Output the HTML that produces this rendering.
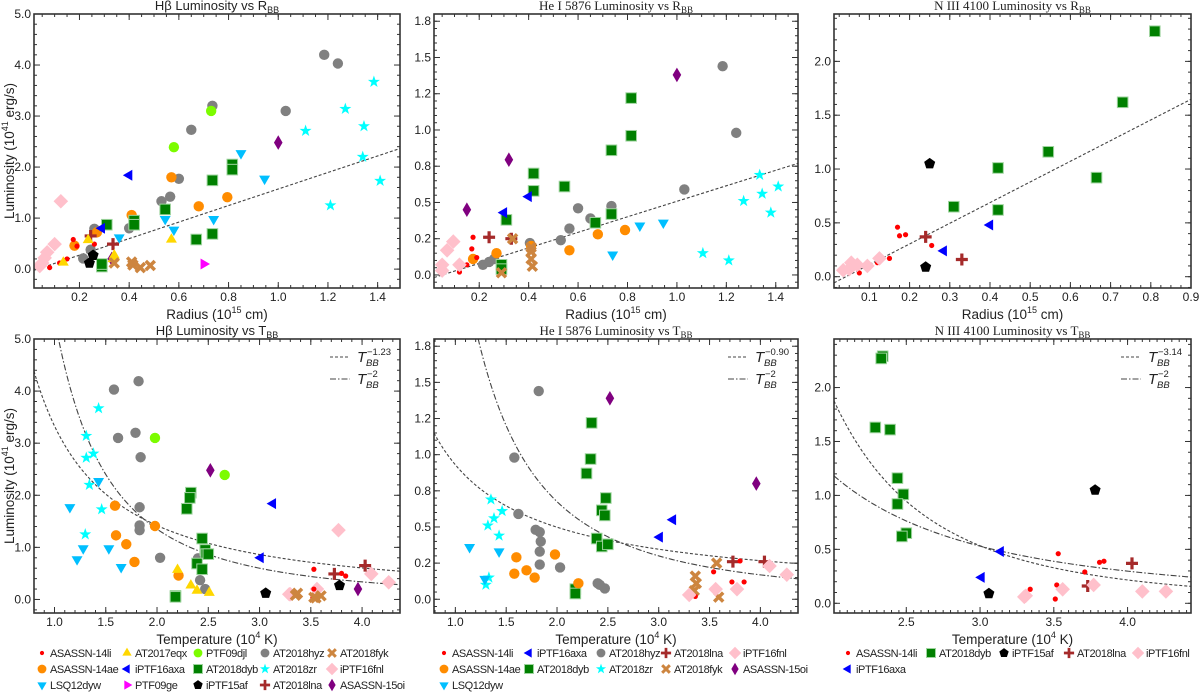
<!DOCTYPE html>
<html><head><meta charset="utf-8"><style>
html,body{margin:0;padding:0;background:#fff;}
svg{display:block;font-family:"Liberation Sans",sans-serif;}
</style></head><body>
<svg id="fig" width="1200" height="695" viewBox="0 0 1200 695" xmlns="http://www.w3.org/2000/svg"></svg>
<script>
// ---------- DATA ----------
const seriesNames = ["ASASSN-14li","AT2017eqx","PTF09djl","AT2018hyz","AT2018fyk","ASASSN-14ae","iPTF16axa","AT2018dyb","AT2018zr","iPTF16fnl","LSQ12dyw","PTF09ge","iPTF15af","AT2018lna","ASASSN-15oi"];

const hbR = {
 "AT2018hyz":[[1.185,4.2],[1.24,4.03],[0.735,3.2],[0.65,2.73],[1.03,3.1],[0.6,1.77],[0.565,1.42],[0.53,1.33],[0.4,0.8],[0.26,0.79],[0.245,0.38],[0.215,0.21]],
 "PTF09djl":[[0.73,3.1],[0.58,2.39]],
 "ASASSN-14ae":[[0.57,1.8],[0.795,1.41],[0.68,1.23],[0.41,1.06],[0.27,0.72],[0.18,0.46]],
 "AT2018dyb":[[0.815,2.05],[0.815,1.95],[0.735,1.74],[0.545,1.17],[0.42,0.95],[0.42,0.87],[0.31,0.87],[0.67,0.58],[0.735,0.69],[0.29,0.05],[0.29,0.1]],
 "AT2018zr":[[1.385,3.67],[1.27,3.14],[1.11,2.71],[1.345,2.8],[1.34,2.2],[1.41,1.73],[1.21,1.25]],
 "LSQ12dyw":[[0.85,2.27],[0.945,1.77],[0.74,0.98],[0.545,0.98],[0.58,0.77],[0.36,0.62]],
 "ASASSN-15oi":[[1.0,2.48],[0.33,0.2]],
 "iPTF16axa":[[0.4,1.84],[0.29,0.8]],
 "iPTF16fnl":[[0.125,1.33],[0.1,0.49],[0.07,0.33],[0.06,0.22],[0.05,0.12],[0.04,0.06]],
 "AT2018lna":[[0.245,0.65],[0.335,0.49]],
 "ASASSN-14li":[[0.175,0.58],[0.19,0.45],[0.26,0.49],[0.15,0.2],[0.12,0.12],[0.08,0.03]],
 "AT2017eqx":[[0.135,0.13],[0.235,0.57],[0.57,0.58],[0.34,0.27],[0.335,0.2]],
 "iPTF15af":[[0.255,0.27],[0.24,0.12]],
 "AT2018fyk":[[0.34,0.12],[0.41,0.14],[0.415,0.08],[0.445,0.03],[0.485,0.07]],
 "PTF09ge":[[0.7,0.1]]
};
const heR = {
 "ASASSN-15oi":[[1.0,1.38],[0.32,0.795],[0.15,0.45]],
 "AT2018hyz":[[1.185,1.44],[1.24,0.98],[1.03,0.59],[0.735,0.475],[0.6,0.46],[0.65,0.39],[0.565,0.32],[0.53,0.24],[0.405,0.22],[0.26,0.11],[0.24,0.09],[0.215,0.07]],
 "AT2018dyb":[[0.815,1.22],[0.815,0.96],[0.735,0.86],[0.42,0.7],[0.545,0.61],[0.42,0.58],[0.31,0.38],[0.67,0.36],[0.735,0.42],[0.29,0.07],[0.29,0.04]],
 "ASASSN-14ae":[[0.79,0.31],[0.68,0.28],[0.565,0.17],[0.27,0.15],[0.175,0.11],[0.41,0.2]],
 "LSQ12dyw":[[0.85,0.34],[0.945,0.36],[0.74,0.14]],
 "AT2018zr":[[1.335,0.69],[1.41,0.61],[1.345,0.56],[1.27,0.51],[1.38,0.43],[1.105,0.15],[1.21,0.1]],
 "iPTF16axa":[[0.4,0.54],[0.3,0.43]],
 "AT2018lna":[[0.24,0.26],[0.33,0.25]],
 "AT2018fyk":[[0.335,0.25],[0.41,0.19],[0.41,0.16],[0.41,0.11],[0.415,0.06],[0.29,0.015]],
 "ASASSN-14li":[[0.175,0.26],[0.17,0.18],[0.19,0.12],[0.15,0.07],[0.12,0.02]],
 "iPTF16fnl":[[0.095,0.23],[0.07,0.17],[0.05,0.07],[0.05,0.03],[0.12,0.07]]
};
const n3R = {
 "AT2018dyb":[[0.81,2.28],[0.73,1.62],[0.545,1.16],[0.665,0.92],[0.42,1.01],[0.42,0.62],[0.31,0.65]],
 "iPTF15af":[[0.25,1.05],[0.24,0.09]],
 "ASASSN-14li":[[0.17,0.46],[0.175,0.38],[0.19,0.39],[0.255,0.29],[0.15,0.17],[0.12,0.13],[0.075,0.035]],
 "AT2018lna":[[0.24,0.37],[0.33,0.16]],
 "iPTF16axa":[[0.4,0.48],[0.285,0.24]],
 "iPTF16fnl":[[0.125,0.17],[0.095,0.1],[0.07,0.11],[0.055,0.13],[0.05,0.07],[0.035,0.06]]
};
const hbT = {
 "AT2018hyz":[[1.82,4.19],[1.58,4.03],[1.79,3.2],[1.62,3.1],[1.84,2.73],[1.83,1.77],[1.83,1.42],[1.83,1.33],[2.03,0.8],[2.4,0.79],[2.42,0.37],[2.47,0.2]],
 "AT2018zr":[[1.43,3.67],[1.31,3.14],[1.38,2.8],[1.31,2.72],[1.34,2.2],[1.46,1.73],[1.3,1.25]],
 "LSQ12dyw":[[1.43,2.27],[1.15,1.77],[1.28,0.98],[1.53,0.98],[1.22,0.77],[1.65,0.62]],
 "PTF09djl":[[1.98,3.1],[2.66,2.39]],
 "ASASSN-15oi":[[2.52,2.48],[3.96,0.2]],
 "AT2018dyb":[[2.33,2.05],[2.32,1.95],[2.29,1.74],[2.44,1.17],[2.47,0.95],[2.48,0.87],[2.5,0.87],[2.39,0.69],[2.44,0.58],[2.18,0.07],[2.18,0.05]],
 "iPTF16axa":[[3.13,1.84],[3.01,0.8]],
 "ASASSN-14ae":[[1.59,1.8],[1.98,1.41],[1.6,1.23],[1.7,1.06],[1.78,0.72],[2.21,0.46]],
 "iPTF16fnl":[[3.77,1.33],[4.09,0.49],[4.26,0.33],[3.56,0.2],[3.3,0.1],[3.29,0.1]],
 "AT2018lna":[[4.03,0.65],[3.73,0.49]],
 "ASASSN-14li":[[3.53,0.58],[3.8,0.5],[3.84,0.45],[3.53,0.2],[3.52,0.03]],
 "iPTF15af":[[3.06,0.12],[3.78,0.27]],
 "AT2017eqx":[[2.2,0.57],[2.33,0.27],[2.39,0.17],[2.51,0.13]],
 "AT2018fyk":[[3.37,0.12],[3.35,0.08],[3.53,0.04],[3.6,0.07],[3.55,0.03]]
};
const heT = {
 "AT2018hyz":[[1.82,1.44],[1.58,0.98],[1.62,0.59],[1.79,0.48],[1.83,0.465],[1.84,0.4],[1.83,0.33],[1.83,0.24],[2.03,0.22],[2.4,0.11],[2.42,0.1],[2.47,0.075]],
 "ASASSN-15oi":[[2.52,1.39],[3.96,0.8]],
 "AT2018dyb":[[2.34,1.22],[2.33,0.97],[2.29,0.87],[2.48,0.7],[2.44,0.615],[2.47,0.58],[2.39,0.42],[2.44,0.365],[2.5,0.38],[2.18,0.07],[2.18,0.04]],
 "AT2018zr":[[1.35,0.69],[1.46,0.61],[1.38,0.56],[1.32,0.51],[1.43,0.44],[1.33,0.15],[1.3,0.1]],
 "LSQ12dyw":[[1.14,0.36],[1.43,0.33],[1.29,0.14]],
 "iPTF16axa":[[3.14,0.55],[3.01,0.43]],
 "ASASSN-14ae":[[1.98,0.31],[1.6,0.29],[1.7,0.2],[1.58,0.177],[1.78,0.15],[2.21,0.11]],
 "AT2018fyk":[[3.57,0.25],[3.36,0.16],[3.37,0.11],[3.35,0.06],[3.59,0.015]],
 "AT2018lna":[[3.73,0.26],[4.04,0.26]],
 "ASASSN-14li":[[3.8,0.265],[3.54,0.19],[3.72,0.12],[3.84,0.12],[3.53,0.07],[3.36,0.02]],
 "iPTF16fnl":[[4.09,0.23],[4.26,0.17],[3.56,0.07],[3.77,0.07],[3.3,0.03]]
};
const n3T = {
 "AT2018dyb":[[2.34,2.29],[2.33,2.27],[2.29,1.63],[2.39,1.61],[2.44,1.16],[2.48,1.01],[2.44,0.92],[2.5,0.65],[2.47,0.62]],
 "iPTF15af":[[3.78,1.05],[3.06,0.09]],
 "iPTF16axa":[[3.14,0.48],[3.01,0.24]],
 "ASASSN-14li":[[3.53,0.46],[3.81,0.38],[3.84,0.39],[3.71,0.29],[3.52,0.17],[3.34,0.13],[3.51,0.04]],
 "AT2018lna":[[4.03,0.37],[3.73,0.16]],
 "iPTF16fnl":[[3.77,0.17],[3.56,0.13],[3.31,0.07],[3.3,0.06],[4.1,0.11],[4.26,0.11]]
};
// fits: linear [slope, intercept]; power-law [amplitude, index]
const fitLinear = [[1.62,-0.05],[0.535,-0.027],[1.92,-0.08]];
const fitPow = [[3.33,-1.23],[0.93,-0.90],[16.8,-3.14]];
const fitPow2 = [5.4,2.7,4.77];
const powLabels = ["−1.23","−0.90","−3.14"];
const legend1 = [["ASASSN-14li","AT2017eqx","PTF09djl","AT2018hyz","AT2018fyk"],["ASASSN-14ae","iPTF16axa","AT2018dyb","AT2018zr","iPTF16fnl"],["LSQ12dyw","PTF09ge","iPTF15af","AT2018lna","ASASSN-15oi"]];
const legend2 = [["ASASSN-14li","iPTF16axa","AT2018hyz","AT2018lna","iPTF16fnl"],["ASASSN-14ae","AT2018dyb","AT2018zr","AT2018fyk","ASASSN-15oi"],["LSQ12dyw"]];
const legend3 = [["ASASSN-14li","AT2018dyb","iPTF15af","AT2018lna","iPTF16fnl"],["iPTF16axa"]];

// ---------- STYLE ----------
const style = {
 "ASASSN-14li":["dot","#ff0000"],"AT2017eqx":["tri-up","#ffd700"],"PTF09djl":["circle","#7cfc00"],
 "AT2018hyz":["circle","#808080"],"AT2018fyk":["x","#cd853f"],"ASASSN-14ae":["circle","#ff8c00"],
 "iPTF16axa":["tri-left","#0000ff"],"AT2018dyb":["square","#008000"],"AT2018zr":["star","#00ffff"],
 "iPTF16fnl":["diamond","#ffc0cb"],"LSQ12dyw":["tri-down","#00bfff"],"PTF09ge":["tri-right","#ff00ff"],
 "iPTF15af":["pent","#000000"],"AT2018lna":["plus","#a52a2a"],"ASASSN-15oi":["thin-diamond","#800080"]
};
const NS="http://www.w3.org/2000/svg";
const svg=document.getElementById('fig');
function el(tag,attrs,parent){const e=document.createElementNS(NS,tag);for(const k in attrs)e.setAttribute(k,attrs[k]);(parent||svg).appendChild(e);return e;}

function marker(g,type,cx,cy,color,s){
 let e;
 if(type==="dot"){e=el('circle',{cx,cy,r:2.6*s,fill:color},g);}
 else if(type==="circle"){e=el('circle',{cx,cy,r:5.2*s,fill:color},g);}
 else if(type==="square"){const h=5.3*s;e=el('rect',{x:cx-h,y:cy-h,width:2*h,height:2*h,fill:color,stroke:"#9fd49f","stroke-width":1},g);}
 else if(type.startsWith("tri")){const r=6.3*s;let p;
  if(type==="tri-up")p=[[0,-r],[r*0.87,r*0.5],[-r*0.87,r*0.5]];
  else if(type==="tri-down")p=[[0,r],[r*0.87,-r*0.5],[-r*0.87,-r*0.5]];
  else if(type==="tri-left")p=[[-r,0],[r*0.5,-r*0.87],[r*0.5,r*0.87]];
  else p=[[r,0],[-r*0.5,-r*0.87],[-r*0.5,r*0.87]];
  e=el('polygon',{points:p.map(q=>(cx+q[0])+','+(cy+q[1])).join(' '),fill:color},g);}
 else if(type==="star"){const R=6.3*s,r=2.5*s;const pts=[];for(let i=0;i<10;i++){const a=-Math.PI/2+i*Math.PI/5;const rr=i%2?r:R;pts.push((cx+rr*Math.cos(a))+','+(cy+rr*Math.sin(a)));}e=el('polygon',{points:pts.join(' '),fill:color},g);}
 else if(type==="pent"){const R=5.8*s;const pts=[];for(let i=0;i<5;i++){const a=-Math.PI/2+i*2*Math.PI/5;pts.push((cx+R*Math.cos(a))+','+(cy+R*Math.sin(a)));}e=el('polygon',{points:pts.join(' '),fill:color},g);}
 else if(type==="diamond"){const r=7.3*s;e=el('polygon',{points:`${cx},${cy-r} ${cx+r},${cy} ${cx},${cy+r} ${cx-r},${cy}`,fill:color},g);}
 else if(type==="thin-diamond"){const r=7.3*s,w=4.3*s;e=el('polygon',{points:`${cx},${cy-r} ${cx+w},${cy} ${cx},${cy+r} ${cx-w},${cy}`,fill:color},g);}
 else if(type==="plus"){const r=6*s;e=el('path',{d:`M${cx-r},${cy}H${cx+r}M${cx},${cy-r}V${cy+r}`,stroke:color,"stroke-width":3.2*s,fill:"none"},g);}
 else if(type==="x"){const r=4.5*s;e=el('path',{d:`M${cx-r},${cy-r}L${cx+r},${cy+r}M${cx-r},${cy+r}L${cx+r},${cy-r}`,stroke:color,"stroke-width":3.5*s,fill:"none"},g);}
 return e;
}

function fmt1(v){return (Math.round(v*10+1e-9)/10).toFixed(1);}
function fmtH(v){
 const m={0:"0.0",0.25:"0.2",0.5:"0.5",0.75:"0.8",1:"1.0",1.25:"1.2",1.5:"1.5",1.75:"1.8"};return m[v]!==undefined?m[v]:fmt1(v);}

function panel(cfg){
 const g=el('g',{});
 
 
 const X=v=>cfg.L+(v-cfg.x0)/(cfg.x1-cfg.x0)*(cfg.R-cfg.L);
 const Y=v=>cfg.B-(v-cfg.y0)/(cfg.y1-cfg.y0)*(cfg.B-cfg.T);
 const cid='clip'+cfg.name;
 const cp=el('clipPath',{id:cid},g);el('rect',{x:cfg.L,y:cfg.T,width:cfg.R-cfg.L,height:cfg.B-cfg.T},cp);
 const tk=el('g',{stroke:"#333","stroke-width":1},g);
 for(let v=Math.ceil(cfg.x0/cfg.xm-1e-9)*cfg.xm;v<=cfg.x1+1e-9;v+=cfg.xm){const x=X(v);el('line',{x1:x,x2:x,y1:cfg.B,y2:cfg.B-3},tk);el('line',{x1:x,x2:x,y1:cfg.T,y2:cfg.T+3},tk);}
 for(let v=Math.ceil(cfg.y0/cfg.ym-1e-9)*cfg.ym;v<=cfg.y1+1e-9;v+=cfg.ym){const y=Y(v);el('line',{x1:cfg.L,x2:cfg.L+3,y1:y,y2:y},tk);el('line',{x1:cfg.R,x2:cfg.R-3,y1:y,y2:y},tk);}
 cfg.xt.forEach(v=>{const x=X(v);el('line',{x1:x,x2:x,y1:cfg.B,y2:cfg.B-6},tk);el('line',{x1:x,x2:x,y1:cfg.T,y2:cfg.T+6},tk);
   const t=el('text',{x:x,y:cfg.B+13,"text-anchor":"middle","font-size":12,fill:"#222"},g);t.textContent=fmt1(v);
   });
 cfg.yt.forEach(v=>{const y=Y(v);el('line',{x1:cfg.L,x2:cfg.L+6,y1:y,y2:y},tk);el('line',{x1:cfg.R,x2:cfg.R-6,y1:y,y2:y},tk);
   const t=el('text',{x:cfg.L-3,y:y+4,"text-anchor":"end","font-size":12,fill:"#222"},g);t.textContent=cfg.yfmt(v);
   });
 const fg=el('g',{"clip-path":`url(#${cid})`,fill:"none",stroke:"#444","stroke-width":1.1},g);
 if(cfg.lin){const p=el('path',{d:`M${X(cfg.x0)},${Y(cfg.lin[0]*cfg.x0+cfg.lin[1])}L${X(cfg.x1)},${Y(cfg.lin[0]*cfg.x1+cfg.lin[1])}`,"stroke-dasharray":"3,2"},fg);
   }
 if(cfg.pow){
  const mk=(f,dash,name)=>{let d="";for(let i=0;i<=200;i++){const t=cfg.x0+(cfg.x1-cfg.x0)*i/200;const v=f(t);d+=(i?"L":"M")+X(t).toFixed(2)+","+Y(Math.min(v,cfg.y1*3)).toFixed(2);}
    const p=el('path',{d,"stroke-dasharray":dash},fg);};
  mk(t=>cfg.pow[0]*Math.pow(t,cfg.pow[1]),"3,2","powerlaw-fit-curve");
  mk(t=>cfg.pow2*Math.pow(t,-2),"6,2,1.5,2","t-minus-2-curve");
  const lx=cfg.R-70;
  const lg=el('g',{},g);
  el('line',{x1:lx,x2:lx+20,y1:cfg.T+18,y2:cfg.T+18,stroke:"#444","stroke-dasharray":"3,2"},lg);
  el('line',{x1:lx,x2:lx+20,y1:cfg.T+40,y2:cfg.T+40,stroke:"#444","stroke-dasharray":"6,2,1.5,2"},lg);
  const lab=(y,sup)=>{
   const t=el('text',{x:lx+27,y:y,"font-size":15,"font-style":"italic",fill:"#222"},lg);t.textContent="T";
   const s=el('text',{x:lx+36,y:y+4,"font-size":9.5,"font-style":"italic",fill:"#222"},lg);s.textContent="BB";
   const p=el('text',{x:lx+37,y:y-7,"font-size":9.5,fill:"#222"},lg);p.textContent=sup;};
  lab(cfg.T+23,cfg.powLabel);lab(cfg.T+45,"−2");
 }
 const pg=el('g',{"clip-path":`url(#${cid})`},g);
 for(const name in cfg.data){const sg=el('g',{},pg);
  
  const [type,color]=style[name];
  cfg.data[name].forEach(d=>{const m=marker(sg,type,X(d[0]),Y(d[1]),color,1);
   });}
 const fr=el('rect',{x:cfg.L,y:cfg.T,width:cfg.R-cfg.L,height:cfg.B-cfg.T,fill:"none",stroke:"#333","stroke-width":1.6},g);
 
 const tt=el('text',{x:(cfg.L+cfg.R)/2,y:cfg.T-4,"text-anchor":"middle","font-size":13,fill:"#222","font-family":cfg.serif?'"Liberation Serif",serif':'"Liberation Sans",sans-serif'},g);
 tt.innerHTML=cfg.title;
 const xt=el('text',{x:(cfg.L+cfg.R)/2,y:cfg.B+31,"text-anchor":"middle","font-size":13.5,fill:"#222"},g);
 xt.innerHTML=cfg.xlabel;
 if(cfg.ylabel){const cy=(cfg.T+cfg.B)/2;const yt=el('text',{x:14,y:cy,"text-anchor":"middle","font-size":13.5,fill:"#222",transform:`rotate(-90 14 ${cy})`},g);
  yt.innerHTML='Luminosity (10<tspan font-size="9" dy="-6">41</tspan><tspan dy="6"> erg/s)</tspan>';
  }
}
const RLAB='Radius (10<tspan font-size="9" dy="-6">15</tspan><tspan dy="6"> cm)</tspan>';
const TLAB='Temperature (10<tspan font-size="9" dy="-6">4</tspan><tspan dy="6"> K)</tspan>';
const sub=s=>`<tspan font-size="9" dy="3">${s}</tspan>`;
const r02=[0.2,0.4,0.6,0.8,1.0,1.2,1.4];
panel({name:"hbeta-vs-radius",L:34,R:400,T:14,B:288,x0:0.017,x1:1.49,y0:-0.37,y1:5.0,xm:0.05,ym:0.2,xt:r02,yt:[0,1,2,3,4,5],yfmt:fmt1,data:hbR,lin:fitLinear[0],title:'Hβ Luminosity vs R'+sub('BB'),xlabel:RLAB,ylabel:true});
panel({name:"hei-vs-radius",L:434,R:798,T:14,B:288,x0:0.017,x1:1.49,y0:-0.09,y1:1.80,xm:0.05,ym:0.05,xt:r02,yt:[0,0.25,0.5,0.75,1,1.25,1.5,1.75],yfmt:fmtH,data:heR,lin:fitLinear[1],serif:true,title:'He I 5876 Luminosity vs R'+sub('BB'),xlabel:RLAB});
panel({name:"niii-vs-radius",L:834,R:1191,T:14,B:288,x0:0.012,x1:0.9,y0:-0.105,y1:2.44,xm:0.025,ym:0.1,xt:[0.1,0.2,0.3,0.4,0.5,0.6,0.7,0.8,0.9],yt:[0,0.5,1,1.5,2],yfmt:fmt1,data:n3R,lin:fitLinear[2],serif:true,title:'N III 4100 Luminosity vs R'+sub('BB'),xlabel:RLAB});
panel({name:"hbeta-vs-temperature",L:34,R:400,T:339,B:613,x0:0.80,x1:4.37,y0:-0.26,y1:5.0,xm:0.1,ym:0.2,xt:[1,1.5,2,2.5,3,3.5,4],yt:[0,1,2,3,4,5],yfmt:fmt1,data:hbT,pow:fitPow[0],pow2:fitPow2[0],powLabel:powLabels[0],title:'Hβ Luminosity vs T'+sub('BB'),xlabel:TLAB,ylabel:true});
panel({name:"hei-vs-temperature",L:434,R:798,T:339,B:613,x0:0.79,x1:4.37,y0:-0.095,y1:1.80,xm:0.1,ym:0.05,xt:[1,1.5,2,2.5,3,3.5,4],yt:[0,0.25,0.5,0.75,1,1.25,1.5,1.75],yfmt:fmtH,data:heT,pow:fitPow[1],pow2:fitPow2[1],powLabel:powLabels[1],serif:true,title:'He I 5876 Luminosity vs T'+sub('BB'),xlabel:TLAB});
panel({name:"niii-vs-temperature",L:834,R:1191,T:339,B:613,x0:2.01,x1:4.43,y0:-0.09,y1:2.45,xm:0.05,ym:0.1,xt:[2.5,3,3.5,4],yt:[0,0.5,1,1.5,2],yfmt:fmt1,data:n3T,pow:fitPow[2],pow2:fitPow2[2],powLabel:powLabels[2],serif:true,title:'N III 4100 Luminosity vs T'+sub('BB'),xlabel:TLAB});

function legend(rows,cols,ys,nm){
 const g=el('g',{});
 rows.forEach((row,ri)=>row.forEach((name,ci)=>{
  const x=cols[ci],y=ys[ri];const eg=el('g',{},g);
  
  const [type,color]=style[name];marker(eg,type,x,y,color,type==="dot"?0.8:0.85);
  const t=el('text',{x:x+8,y:y+4,"font-size":11,fill:"#222","letter-spacing":"-0.4"},eg);t.textContent=name;}));
}
legend(legend1,[42,127,198,265,332],[653,669,685],"legend-hbeta");
legend(legend2,[444,529,601,666,735],[653,669,685],"legend-hei");
legend(legend3,[848,931,1004,1069,1138],[653,669],"legend-niii");
</script>
</body></html>
